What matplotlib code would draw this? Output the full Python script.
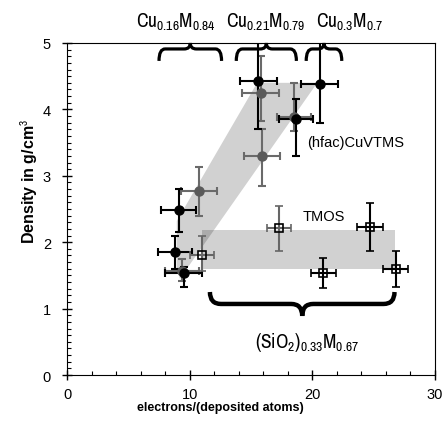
import matplotlib
matplotlib.use("Agg")
import matplotlib.pyplot as plt
from matplotlib.path import Path
from matplotlib.patches import PathPatch, Polygon
from matplotlib.ticker import MultipleLocator

NARROW = ["Archivo Narrow", "Liberation Sans", "DejaVu Sans"]
plt.rcParams["font.family"] = ["Liberation Sans", "DejaVu Sans"]
plt.rcParams["mathtext.fontset"] = "custom"
plt.rcParams["mathtext.rm"] = "Archivo Narrow"
plt.rcParams["mathtext.bf"] = "Liberation Sans:bold"
plt.rcParams["mathtext.default"] = "rm"

# --- data ---
# black filled circles
blk_x = [15.6, 20.6, 18.65, 9.1, 8.8, 9.5]
blk_y = [4.43, 4.38, 3.85, 2.48, 1.85, 1.53]
blk_xerr = [1.5, 1.5, 1.4, 1.4, 1.35, 1.5]
blk_yerr_lo = [0.73, 0.58, 0.55, 0.33, 0.25, 0.21]
blk_yerr_hi = [0.57, 0.65, 0.30, 0.32, 0.24, 0.10]

# gray filled circles
gry_x = [15.8, 15.9, 18.5, 10.76, 9.4]
gry_y = [4.25, 3.30, 3.88, 2.77, 1.56]
gry_xerr = [1.5, 1.5, 1.4, 1.5, 1.4]
gry_yerr_lo = [0.42, 0.45, 0.20, 0.37, 0.15]
gry_yerr_hi = [0.55, 0.40, 0.52, 0.36, 0.18]

# TMOS open squares
sq_x = [11.0, 17.3, 20.9, 24.7, 26.8]
sq_y = [1.81, 2.21, 1.54, 2.23, 1.60]
sq_xerr = [1.0, 1.0, 1.0, 1.05, 1.0]
sq_yerr_lo = [0.24, 0.35, 0.23, 0.36, 0.27]
sq_yerr_hi = [0.28, 0.33, 0.22, 0.36, 0.26]
sq_colors = ["#666666", "#666666", "black", "black", "black"]

# shaded bands
diag_band = [(15.5, 4.40), (20.4, 4.40), (9.2, 1.45), (8.95, 1.60), (8.95, 2.32)]
flat_band = [(11.0, 1.60), (26.7, 1.60), (26.7, 2.18), (11.0, 2.18)]

# braces: (x0, x1, y_end, y_mid, y_tip)
top_braces = [(7.5, 12.6, 4.73, 4.91, 5.0),
              (13.8, 18.7, 4.73, 4.91, 5.0),
              (19.5, 22.4, 4.73, 4.91, 5.0)]
top_labels = [r"Cu$_{0.16}$M$_{0.84}$", r"Cu$_{0.21}$M$_{0.79}$", r"Cu$_{0.3}$M$_{0.7}$"]
top_label_x = [8.9, 16.2, 23.0]
bottom_brace = (11.65, 26.7, 1.25, 1.07, 0.89)


def brace_path(x0, x1, y_end, y_mid, y_tip, d):
    xm = (x0 + x1) / 2
    verts = [(x0, y_end), (x0, y_mid), (x0 + d, y_mid),
             (xm - d, y_mid), (xm, y_mid), (xm, y_tip),
             (xm, y_mid), (xm + d, y_mid),
             (x1 - d, y_mid), (x1, y_mid), (x1, y_end)]
    codes = [Path.MOVETO, Path.CURVE3, Path.CURVE3,
             Path.LINETO, Path.CURVE3, Path.CURVE3,
             Path.CURVE3, Path.CURVE3,
             Path.LINETO, Path.CURVE3, Path.CURVE3]
    return Path(verts, codes)


fig = plt.figure(figsize=(4.45, 4.27), dpi=100)
ax = fig.add_axes([0.1506, 0.1194, 0.8269, 0.7776])

ax.add_patch(Polygon(diag_band, closed=True, facecolor="black", alpha=0.18, edgecolor="none", zorder=1))
ax.add_patch(Polygon(flat_band, closed=True, facecolor="black", alpha=0.18, edgecolor="none", zorder=1))

eb = dict(fmt="o", capsize=3, capthick=1.5, elinewidth=1.5, zorder=3)
ax.errorbar(gry_x, gry_y, xerr=gry_xerr, yerr=[gry_yerr_lo, gry_yerr_hi],
            color="#5a5a5a", ecolor="#6a6a6a", ms=6.5, **eb)
ax.errorbar(blk_x, blk_y, xerr=blk_xerr, yerr=[blk_yerr_lo, blk_yerr_hi],
            color="black", ecolor="black", ms=6.5, **eb)
for i in range(len(sq_x)):
    ax.errorbar(sq_x[i], sq_y[i], xerr=sq_xerr[i], yerr=[[sq_yerr_lo[i]], [sq_yerr_hi[i]]],
                fmt="s", mfc="none", mec="black", mew=1.2, ms=5.5, ecolor=sq_colors[i],
                capsize=3, capthick=1.5, elinewidth=1.5, zorder=4)

for b in top_braces:
    ax.add_patch(PathPatch(brace_path(*b, d=0.5), facecolor="none", edgecolor="black",
                           lw=2.3, clip_on=False, zorder=5))
for lab, x in zip(top_labels, top_label_x):
    ax.text(x, 5.24, lab, ha="center", va="baseline", fontsize=14, family=NARROW, clip_on=False)

ax.add_patch(PathPatch(brace_path(*bottom_brace, d=0.9), facecolor="none", edgecolor="black",
                       lw=3.2, zorder=5))
ax.text(19.6, 0.50, r"(SiO$_2$)$_{0.33}$M$_{0.67}$", ha="center", va="center", fontsize=14, family=NARROW)
ax.text(19.6, 3.51, "(hfac)CuVTMS", ha="left", va="center", fontsize=10.5)
ax.text(19.2, 2.39, "TMOS", ha="left", va="center", fontsize=10.5)

ax.set_xlim(0, 30)
ax.set_ylim(0, 5)
ax.xaxis.set_major_locator(MultipleLocator(10))
ax.xaxis.set_minor_locator(MultipleLocator(2))
ax.yaxis.set_major_locator(MultipleLocator(1))
ax.yaxis.set_minor_locator(MultipleLocator(0.1))
ax.tick_params(which="major", direction="inout", length=7, width=1, labelsize=10.5)
ax.tick_params(axis="y", which="major", pad=8)
ax.tick_params(axis="x", which="major", pad=5)
ax.tick_params(which="minor", direction="in", length=3, width=0.8)
ax.set_xlabel("electrons/(deposited atoms)", fontsize=9, fontweight="bold", labelpad=0, x=0.416)
ax.set_ylabel(r"Density in g/cm$^\mathrm{3}$", fontsize=11.5, fontweight="bold", labelpad=2, y=0.587)

fig.savefig("out.png", dpi=100)
